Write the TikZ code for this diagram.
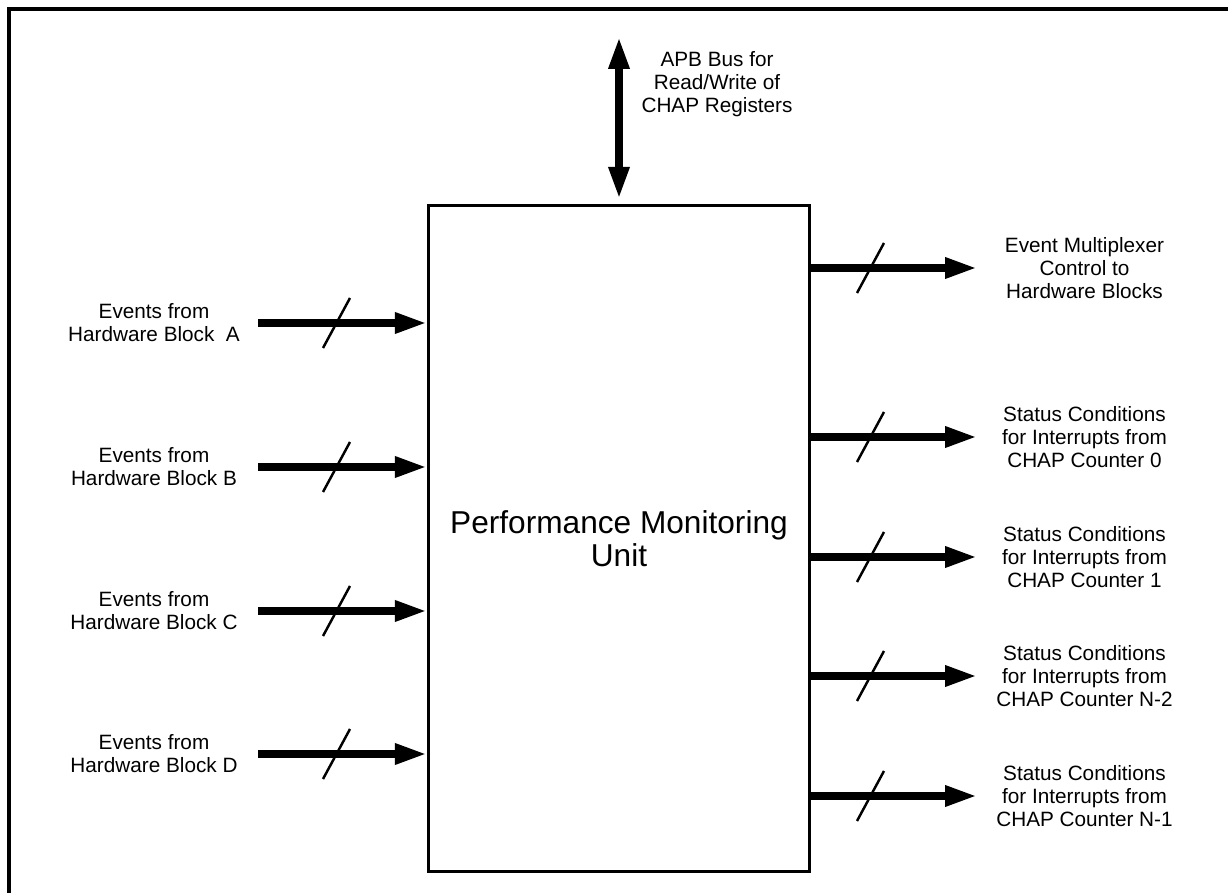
\documentclass[tikz,border=0pt]{standalone}
\usepackage{fontspec}
\setmainfont{Liberation Sans}
\usetikzlibrary{arrows.meta,calc}

\begin{document}
\begin{tikzpicture}[
    >={Triangle[length=6.4mm,width=3.9mm]},
    bus/.style={line width=4.3pt, ->},
    slash/.style={line width=1.4pt},
    sig/.style={align=center, font=\fontsize{11.8}{13}\selectfont},
    pmubox/.style={draw, line width=1.9pt, minimum width=7.62cm, minimum height=13.32cm, align=center, font=\fontsize{18}{18.8}\selectfont}
  ]
    \useasboundingbox (0,0) rectangle (24.56,17.86);
    \draw[line width=1.9pt] (24.56,17.68) -- (0.18,17.68) -- (0.18,0);

    \node[pmubox] (pmu) at (12.38,7.09) {Performance Monitoring\\Unit};

    \coordinate (apb) at (12.38,17.12);
    \draw[bus, <->, shorten >=1mm] (apb) -- (pmu.north);
    \node[sig] (apblabel) at (14.34,16.18) {APB Bus for\\Read/Write of\\CHAP Registers};

    \node[sig] (evA) at (3.08,11.40) {Events from\\Hardware Block~ A};
    \node[sig] (evB) at (3.08,8.52) {Events from\\Hardware Block B};
    \node[sig] (evC) at (3.08,5.64) {Events from\\Hardware Block C};
    \node[sig] (evD) at (3.08,2.78) {Events from\\Hardware Block D};
    \coordinate (inA) at (5.16,11.40);
    \coordinate (inB) at (5.16,8.52);
    \coordinate (inC) at (5.16,5.64);
    \coordinate (inD) at (5.16,2.78);
    \draw[bus] (inA) -- (inA -| pmu.west);
    \draw[bus] (inB) -- (inB -| pmu.west);
    \draw[bus] (inC) -- (inC -| pmu.west);
    \draw[bus] (inD) -- (inD -| pmu.west);
    \draw[slash] ($(inA)+(1.30,-0.5)$) -- ++(0.54,1.0);
    \draw[slash] ($(inB)+(1.30,-0.5)$) -- ++(0.54,1.0);
    \draw[slash] ($(inC)+(1.30,-0.5)$) -- ++(0.54,1.0);
    \draw[slash] ($(inD)+(1.30,-0.5)$) -- ++(0.54,1.0);

    \node[sig] (muxlabel) at (21.69,12.50) {Event Multiplexer\\Control to\\Hardware Blocks};
    \node[sig] (cnt0) at (21.69,9.12) {Status Conditions\\for Interrupts from\\CHAP Counter 0};
    \node[sig] (cnt1) at (21.69,6.72) {Status Conditions\\for Interrupts from\\CHAP Counter 1};
    \node[sig] (cntN2) at (21.69,4.34) {Status Conditions\\for Interrupts from\\CHAP Counter N-2};
    \node[sig] (cntN1) at (21.69,1.94) {Status Conditions\\for Interrupts from\\CHAP Counter N-1};
    \coordinate (oMux) at (19.54,12.50);
    \coordinate (o0) at (19.54,9.12);
    \coordinate (o1) at (19.54,6.72);
    \coordinate (oN2) at (19.54,4.34);
    \coordinate (oN1) at (19.54,1.94);
    \draw[bus] (oMux -| pmu.east) -- (oMux);
    \draw[bus] (o0 -| pmu.east) -- (o0);
    \draw[bus] (o1 -| pmu.east) -- (o1);
    \draw[bus] (oN2 -| pmu.east) -- (oN2);
    \draw[bus] (oN1 -| pmu.east) -- (oN1);
    \draw[slash] ($(oMux)+(-2.40,-0.5)$) -- ++(0.54,1.0);
    \draw[slash] ($(o0)+(-2.40,-0.5)$) -- ++(0.54,1.0);
    \draw[slash] ($(o1)+(-2.40,-0.5)$) -- ++(0.54,1.0);
    \draw[slash] ($(oN2)+(-2.40,-0.5)$) -- ++(0.54,1.0);
    \draw[slash] ($(oN1)+(-2.40,-0.5)$) -- ++(0.54,1.0);
  \end{tikzpicture}
\end{document}
